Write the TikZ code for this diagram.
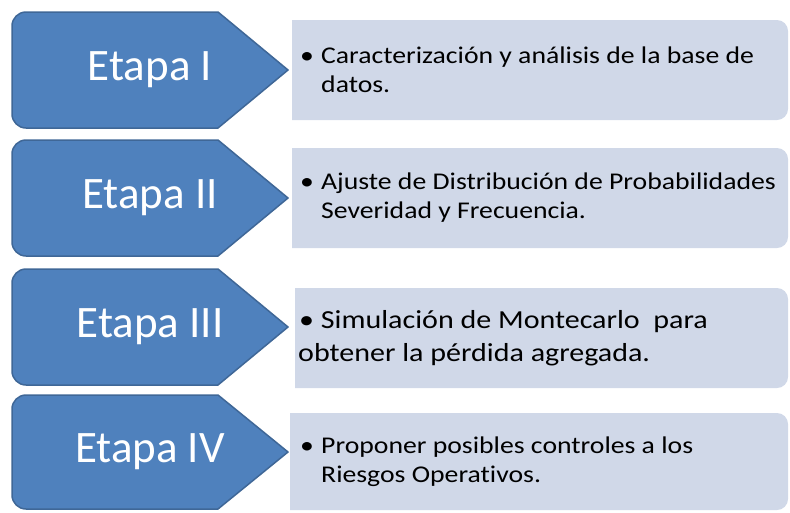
\documentclass[tikz,border=0pt]{standalone}
\usepackage{fontspec}
\setmainfont{Carlito}
\newfontfamily\cajafont[FakeStretch=1.155,Ligatures=CommonOff]{Carlito}
\definecolor{etapablue}{HTML}{4F81BD}
\definecolor{etapaedge}{HTML}{3F6797}
\definecolor{cajafill}{HTML}{D0D8E8}

\begin{document}
\begin{tikzpicture}[x=1pt, y=-1pt,
			etapa/.style={fill=etapablue, draw=etapaedge, line width=1.5pt, line join=round},
			caja/.style={fill=cajafill},
			etapatext/.style={text=white, inner sep=0, font=\fontsize{45}{50}\selectfont},
			cajatext/.style={anchor=west, align=left, inner sep=0, font=\cajafont\fontsize{24}{29}\selectfont}
		]
		\useasboundingbox (0,0) rectangle (790,512);

		% Etapa I
		\draw[etapa] (150,12) [rounded corners=14pt] -- (12,12) -- (12,128) -- (150,128) [sharp corners] -- (218,128) -- (288,70) -- (218,12) -- cycle;
		\fill[caja] (540,20) [rounded corners=11pt] -- (788,20) -- (788,120) -- (540,120) [sharp corners] -- (292,120) -- (292,20) -- cycle;
		\node[etapatext] (e1) at (150,70) {Etapa I};
		\node[cajatext] (t1) at (300,70) {\makebox[21pt][l]{•}Caracterización y análisis de la base de\\\hspace*{21pt}datos.};

		% Etapa II
		\draw[etapa] (150,140) [rounded corners=14pt] -- (12,140) -- (12,256) -- (150,256) [sharp corners] -- (218,256) -- (288,198) -- (218,140) -- cycle;
		\fill[caja] (540,148) [rounded corners=11pt] -- (788,148) -- (788,248) -- (540,248) [sharp corners] -- (292,248) -- (292,148) -- cycle;
		\node[etapatext] (e2) at (150,198) {Etapa II};
		\node[cajatext] (t2) at (300,198) {\makebox[21pt][l]{•}Ajuste de Distribución de Probabilidades\\\hspace*{21pt}Severidad y Frecuencia.};

		% Etapa III
		\draw[etapa] (150,269) [rounded corners=14pt] -- (12,269) -- (12,385) -- (150,385) [sharp corners] -- (218,385) -- (288,327) -- (218,269) -- cycle;
		\fill[caja] (540,288) [rounded corners=11pt] -- (788,288) -- (788,388) -- (540,388) [sharp corners] -- (295,388) -- (295,288) -- cycle;
		\node[etapatext] (e3) at (150,327) {Etapa III};
		\node[cajatext, font=\cajafont\fontsize{26}{33}\selectfont] (t3) at (298,338) {\hspace*{1pt}• Simulación de Montecarlo\ \ para\\obtener la pérdida agregada.};

		% Etapa IV
		\draw[etapa] (150,395) [rounded corners=14pt] -- (12,395) -- (12,509) -- (150,509) [sharp corners] -- (218,509) -- (288,452) -- (218,395) -- cycle;
		\fill[caja] (540,413) [rounded corners=11pt] -- (788,413) -- (788,510) -- (540,510) [sharp corners] -- (290,510) -- (290,413) -- cycle;
		\node[etapatext] (e4) at (150,452) {Etapa IV};
		\node[cajatext] (t4) at (300,462) {\makebox[21pt][l]{•}Proponer posibles controles a los\\\hspace*{21pt}Riesgos Operativos.};

	\end{tikzpicture}
\end{document}
